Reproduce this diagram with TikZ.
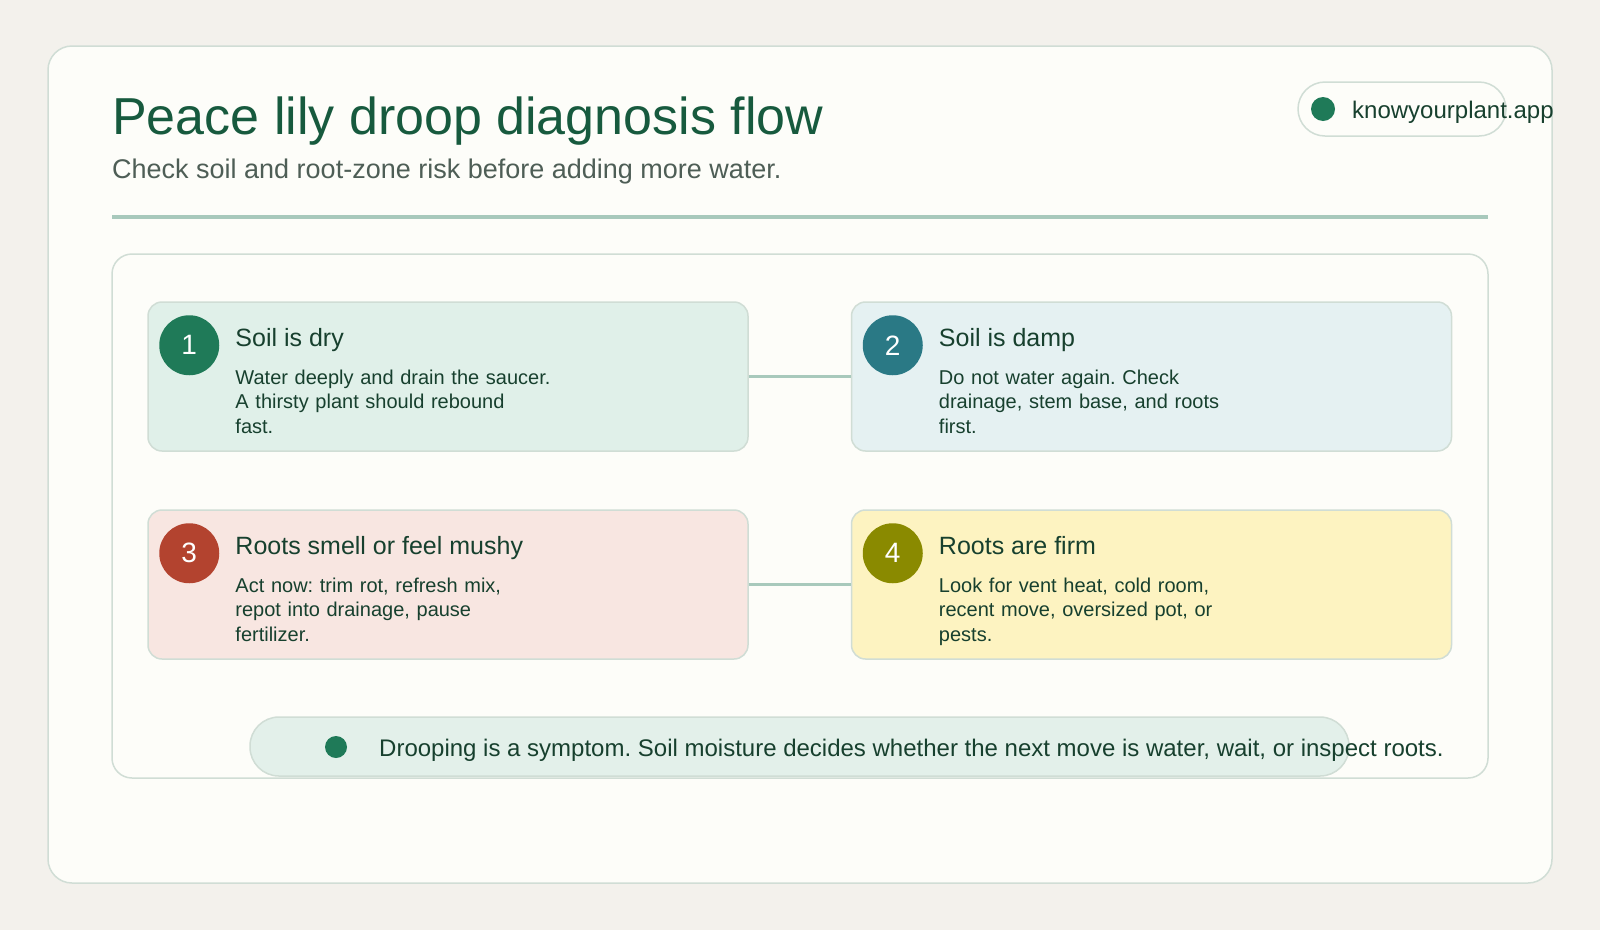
\documentclass[tikz,border=0pt]{standalone}
\usepackage{fontspec}
\setmainfont{Liberation Sans}
\usetikzlibrary{positioning}
\frenchspacing

\definecolor{pagebg}{HTML}{F3F1EC}
\definecolor{cardbg}{HTML}{FDFDF9}
\definecolor{cardline}{HTML}{D0DDD5}
\definecolor{titlegreen}{HTML}{175A3E}
\definecolor{subgray}{HTML}{4E5E56}
\definecolor{rulegreen}{HTML}{A8C9BC}
\definecolor{ink}{HTML}{17402E}
\definecolor{dotgreen}{HTML}{1F7A58}
\definecolor{badgedry}{HTML}{1F7A58}
\definecolor{badgedamp}{HTML}{2A7985}
\definecolor{badgemushy}{HTML}{B3432F}
\definecolor{badgefirm}{HTML}{8A8A00}
\definecolor{filldry}{HTML}{E0F0E9}
\definecolor{filldamp}{HTML}{E5F1F2}
\definecolor{fillmushy}{HTML}{F8E6E1}
\definecolor{fillfirm}{HTML}{FDF3C1}
\definecolor{fillnote}{HTML}{E3F0EA}

\begin{document}
\begin{tikzpicture}[
    x=1pt, y=-1pt,
    card/.style={rectangle, draw=cardline, line width=1.5pt, rounded corners=14pt, minimum width=600pt, minimum height=149pt, inner sep=0pt},
    badge/.style={circle, minimum size=60pt, inner sep=0pt, text=white, font=\fontsize{28}{32}\selectfont},
    heading/.style={anchor=base west, inner sep=0pt, text=ink, font=\fontsize{25}{30}\selectfont},
    body/.style={anchor=base west, inner sep=0pt, text=ink, text width=330pt, align=left, font=\fontsize{20}{24.5}\selectfont},
    pill/.style={rectangle, draw=cardline, line width=1.5pt, inner sep=0pt},
    dot/.style={circle, fill=dotgreen, inner sep=0pt},
    link/.style={draw=rulegreen, line width=3pt}
]

    % Page and frame ===========================
    \fill[pagebg] (0,0) rectangle (1600,930);
    \useasboundingbox (0,0) rectangle (1600,930);
    \draw[cardline, line width=1.5pt, fill=cardbg, rounded corners=24pt] (48,46) rectangle (1552,883);

    % Header ===========================
    \node[anchor=base west, inner sep=0pt, text=titlegreen, font=\fontsize{52}{60}\selectfont] (title) at (112,134) {Peace lily droop diagnosis flow};
    \node[anchor=base west, inner sep=0pt, text=subgray, font=\fontsize{27}{32}\selectfont] (subtitle) at (112,178) {Check soil and root-zone risk before adding more water.};
    \draw[rulegreen, line width=4pt] (112,217) -- (1488,217);

    \node[pill, fill=cardbg, rounded corners=27pt, minimum width=208pt, minimum height=54pt] (site) at (1402,109) {};
    \node[dot, minimum size=24pt] (sitedot) at (1323,109) {};
    \node[anchor=base west, inner sep=0pt, text=ink, font=\fontsize{24}{28}\selectfont] (sitename) at (1352,118) {knowyourplant.app};

    % Panel ===========================
    \draw[cardline, line width=1.5pt, fill=cardbg, rounded corners=20pt] (112,254) rectangle (1488,778);

    % Cards ===========================
    \node[card, fill=filldry] (dry) at (448,376.5) {};
    \node[card, fill=filldamp] (damp) at (1151.5,376.5) {};
    \node[card, fill=fillmushy] (mushy) at (448,584.5) {};
    \node[card, fill=fillfirm] (firm) at (1151.5,584.5) {};

    \draw[link] (dry) -- (damp);
    \draw[link] (mushy) -- (firm);

    % Card contents ===========================
    \node[badge, fill=badgedry] (drybadge) at ([xshift=42pt, yshift=-44pt]dry.north west) {1};
    \node[heading] (drytitle) at ([xshift=88pt, yshift=-45pt]dry.north west) {Soil is dry};
    \node[body] (drytext) at ([xshift=88pt, yshift=-83pt]dry.north west) {Water deeply and drain the saucer.\\A thirsty plant should rebound\\fast.};

    \node[badge, fill=badgedamp] (dampbadge) at ([xshift=42pt, yshift=-44pt]damp.north west) {2};
    \node[heading] (damptitle) at ([xshift=88pt, yshift=-45pt]damp.north west) {Soil is damp};
    \node[body] (damptext) at ([xshift=88pt, yshift=-83pt]damp.north west) {Do not water again. Check\\drainage, stem base, and roots\\first.};

    \node[badge, fill=badgemushy] (mushybadge) at ([xshift=42pt, yshift=-44pt]mushy.north west) {3};
    \node[heading] (mushytitle) at ([xshift=88pt, yshift=-45pt]mushy.north west) {Roots smell or feel mushy};
    \node[body] (mushytext) at ([xshift=88pt, yshift=-83pt]mushy.north west) {Act now: trim rot, refresh mix,\\repot into drainage, pause\\fertilizer.};

    \node[badge, fill=badgefirm] (firmbadge) at ([xshift=42pt, yshift=-44pt]firm.north west) {4};
    \node[heading] (firmtitle) at ([xshift=88pt, yshift=-45pt]firm.north west) {Roots are firm};
    \node[body] (firmtext) at ([xshift=88pt, yshift=-83pt]firm.north west) {Look for vent heat, cold room,\\recent move, oversized pot, or\\pests.};

    % Footer note ===========================
    \node[pill, fill=fillnote, rounded corners=29pt, minimum width=1099pt, minimum height=59pt] (note) at (799.5,746.5) {};
    \node[dot, minimum size=22pt] (notedot) at (336,747) {};
    \node[anchor=base west, inner sep=0pt, text=ink, font=\fontsize{24}{28}\selectfont] (notetext) at (379,756) {Drooping is a symptom. Soil moisture decides whether the next move is water, wait, or inspect roots.};

\end{tikzpicture}
\end{document}
